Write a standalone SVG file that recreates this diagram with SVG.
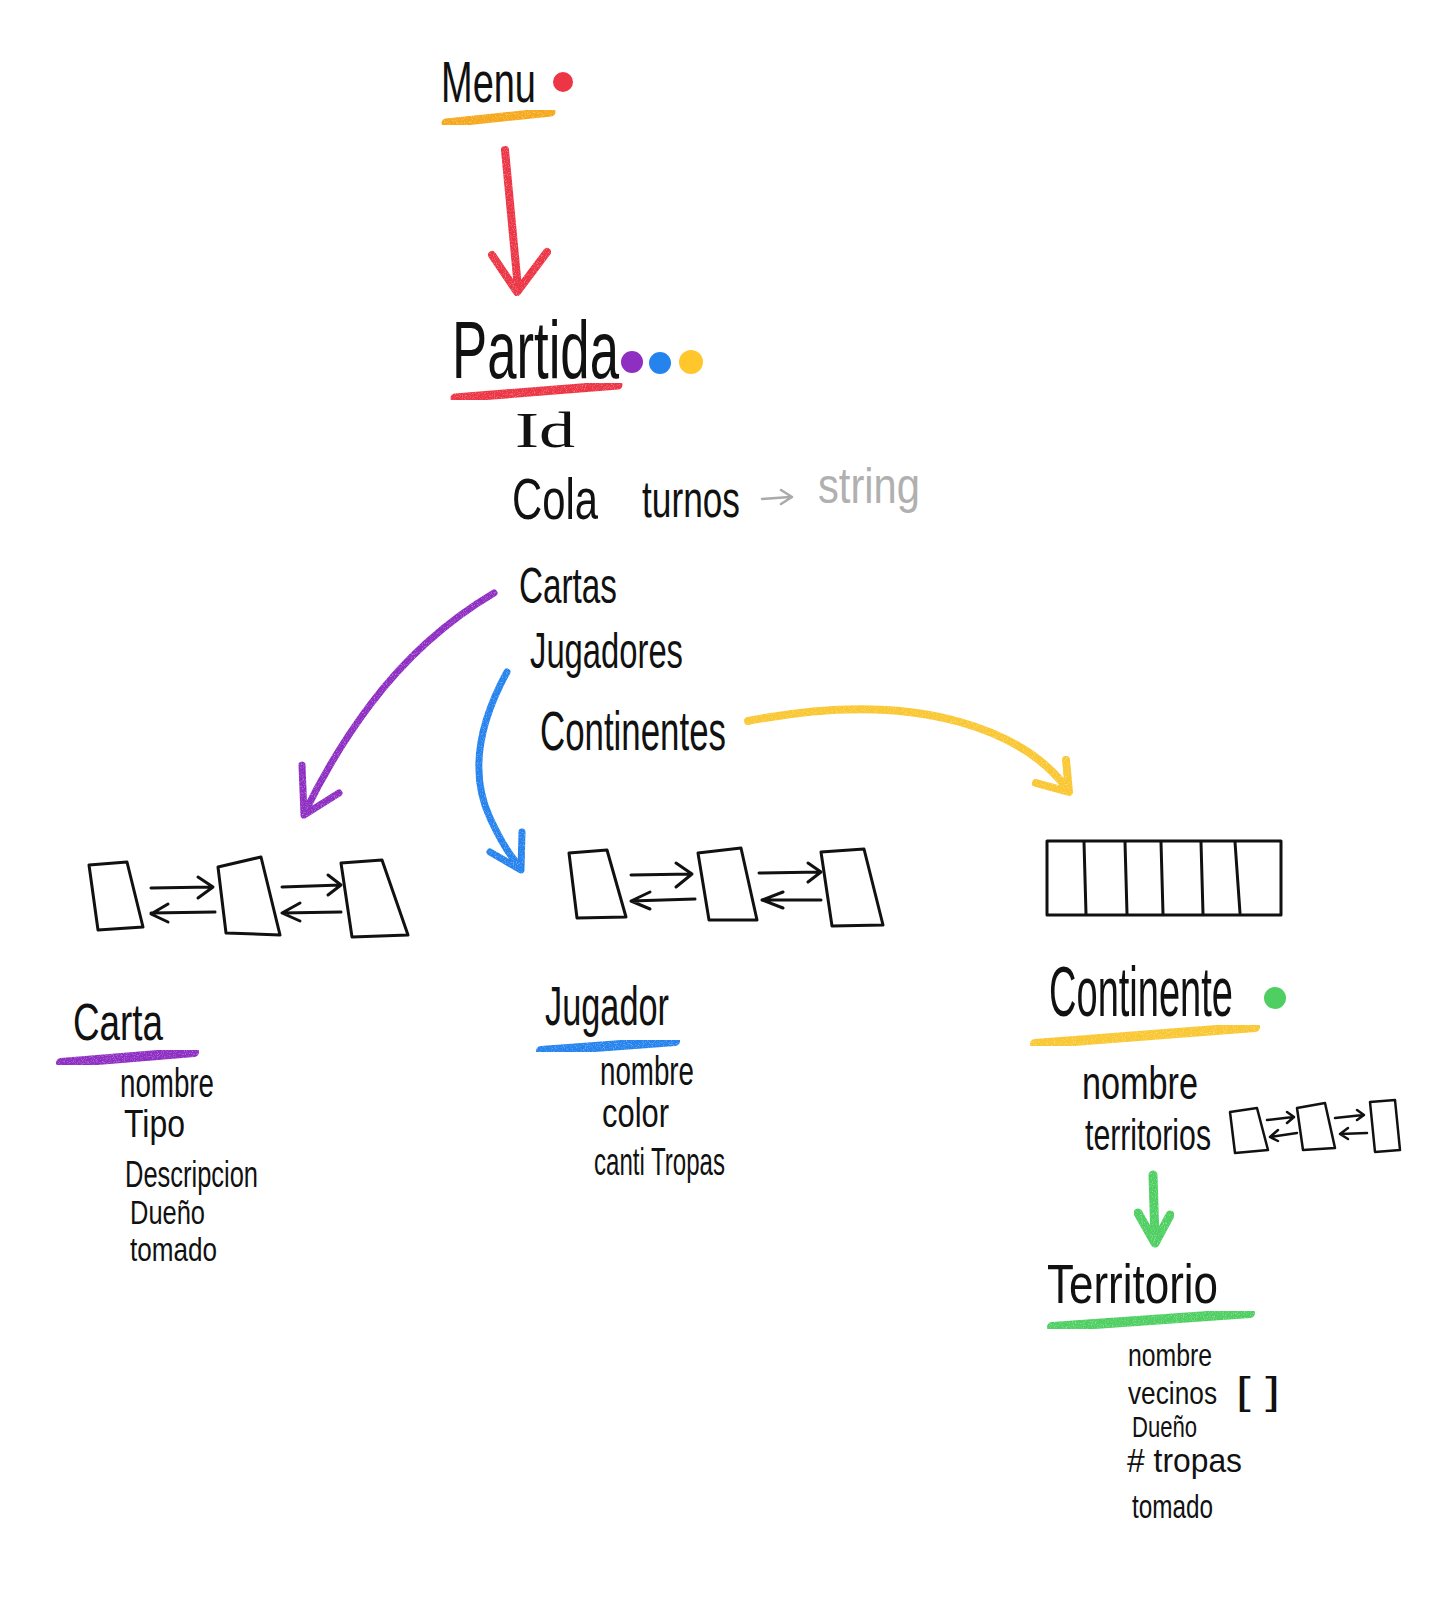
<svg xmlns="http://www.w3.org/2000/svg" width="1456" height="1600" viewBox="0 0 1456 1600">
<defs>
<style>
text{font-family:"Liberation Sans","DejaVu Sans",sans-serif;fill:#111}
.ink{fill:none;stroke:#111;stroke-width:3;stroke-linecap:round;stroke-linejoin:round}
.inkf{fill:none;stroke:#111;stroke-width:2.5;stroke-linecap:round;stroke-linejoin:round}
.cray{fill:none;stroke-linecap:round;stroke-linejoin:round;filter:url(#crayon)}
.red{stroke:#EC3545}.org{stroke:#F6A81E}.pur{stroke:#8E2FC2}.blu{stroke:#2583EE}.yel{stroke:#F9C733}.grn{stroke:#4FCF62}
</style>
<filter id="crayon" x="-10%" y="-10%" width="120%" height="120%">
<feTurbulence type="fractalNoise" baseFrequency="0.9" numOctaves="2" result="n"/>
<feColorMatrix in="n" type="matrix" values="0 0 0 0 0  0 0 0 0 0  0 0 0 0 0  0 0 0 -1.2 1.6" result="m"/>
<feComposite in="SourceGraphic" in2="m" operator="in"/>
</filter>
</defs>
<rect width="1456" height="1600" fill="#fff"/>

<g id="connectors">
<path class="cray red" stroke-width="8" d="M505,150 L518,288 M492,255 L517,292 L547,252"/>
<path class="cray pur" stroke-width="7" d="M494,593 C440,625 400,665 370,705 S318,785 304,814 M302,765 L304,815 L339,793"/>
<path class="cray blu" stroke-width="7" d="M507,672 C478,725 470,775 490,818 S515,858 520,868 M522,832 L521,870 L490,852"/>
<path class="cray yel" stroke-width="8" d="M748,721 C830,705 900,705 960,722 S1050,765 1068,790 M1036,783 L1069,792 L1066,760"/>
<path class="cray grn" stroke-width="9" d="M1153,1175 L1155,1240 M1138,1213 L1155,1243 L1170,1215"/>
<path fill="none" stroke="#aaa" stroke-width="2.5" stroke-linecap="round" stroke-linejoin="round" d="M762,499 L790,497 M781,490 L792,497 L781,504"/>
</g>

<g id="menu">
<text x="441" y="102" font-size="58" textLength="95" lengthAdjust="spacingAndGlyphs">Menu</text>
<circle cx="563" cy="82" r="10" fill="#EC3545"/>
<path class="cray org" stroke-width="9" d="M446,123 L551,112"/>
</g>

<g id="partida">
<text x="452" y="378" font-size="82" textLength="167" lengthAdjust="spacingAndGlyphs">Partida</text>
<circle cx="632" cy="362" r="11" fill="#8E2FC2"/>
<circle cx="660" cy="363" r="11" fill="#2583EE"/>
<circle cx="691" cy="362" r="12" fill="#FFC72C"/>
<path class="cray red" stroke-width="9" d="M455,398 L618,385"/>
<text x="515" y="447" font-size="50" textLength="60" lengthAdjust="spacingAndGlyphs" style="font-family:'Liberation Serif',serif">Id</text>
<text x="512" y="519" font-size="58" textLength="86" lengthAdjust="spacingAndGlyphs">Cola</text>
<text x="642" y="517" font-size="52" textLength="98" lengthAdjust="spacingAndGlyphs">turnos</text>
<text x="818" y="503" font-size="50" textLength="102" lengthAdjust="spacingAndGlyphs" style="fill:#b0b0b0">string</text>
<text x="519" y="603" font-size="50" textLength="98" lengthAdjust="spacingAndGlyphs">Cartas</text>
<text x="530" y="668" font-size="50" textLength="153" lengthAdjust="spacingAndGlyphs">Jugadores</text>
<text x="540" y="750" font-size="56" textLength="186" lengthAdjust="spacingAndGlyphs">Continentes</text>
</g>

<g id="lista-cartas">
<path class="ink" d="M89,865 L127,862 L143,927 L98,930 Z"/>
<path class="ink" d="M218,867 L261,857 L280,935 L226,933 Z"/>
<path class="ink" d="M341,863 L382,860 L408,935 L352,937 Z"/>
<path class="ink" d="M151,888 L212,887 M198,877 L213,887 L198,898"/>
<path class="ink" d="M215,912 L151,913 M168,904 L151,914 L168,922"/>
<path class="ink" d="M282,887 L341,885 M328,875 L341,885 L328,895"/>
<path class="ink" d="M341,912 L282,913 M300,903 L282,913 L300,921"/>
</g>

<g id="lista-jugadores">
<path class="ink" d="M569,853 L607,850 L626,917 L577,918 Z"/>
<path class="ink" d="M698,853 L741,848 L757,920 L709,920 Z"/>
<path class="ink" d="M821,852 L864,849 L883,925 L832,926 Z"/>
<path class="ink" d="M631,875 L692,874 M676,863 L692,874 L676,887"/>
<path class="ink" d="M695,899 L631,901 M650,892 L631,901 L650,909"/>
<path class="ink" d="M759,873 L821,872 M808,863 L821,872 L808,882"/>
<path class="ink" d="M821,900 L762,900 M783,892 L762,900 L783,908"/>
</g>

<g id="arreglo-continentes">
<rect class="ink" x="1047" y="841" width="234" height="74" stroke-linecap="square"/>
<path class="ink" d="M1084,842 L1086,914 M1125,842 L1127,914 M1161,842 L1163,914 M1201,842 L1203,914 M1235,842 L1240,913"/>
</g>

<g id="carta">
<text x="73" y="1040" font-size="52" textLength="90" lengthAdjust="spacingAndGlyphs">Carta</text>
<path class="cray pur" stroke-width="10" d="M61,1063 L194,1052"/>
<text x="120" y="1097" font-size="40" textLength="94" lengthAdjust="spacingAndGlyphs">nombre</text>
<text x="124" y="1137" font-size="38" textLength="61" lengthAdjust="spacingAndGlyphs">Tipo</text>
<text x="125" y="1187" font-size="36" textLength="133" lengthAdjust="spacingAndGlyphs">Descripcion</text>
<text x="130" y="1224" font-size="33" textLength="75" lengthAdjust="spacingAndGlyphs">Dueño</text>
<text x="130" y="1261" font-size="34" textLength="87" lengthAdjust="spacingAndGlyphs">tomado</text>
</g>

<g id="jugador">
<text x="545" y="1025" font-size="56" textLength="124" lengthAdjust="spacingAndGlyphs">Jugador</text>
<path class="cray blu" stroke-width="10" d="M541,1051 L675,1041"/>
<text x="600" y="1085" font-size="40" textLength="94" lengthAdjust="spacingAndGlyphs">nombre</text>
<text x="602" y="1127" font-size="40" textLength="67" lengthAdjust="spacingAndGlyphs">color</text>
<text x="594" y="1175" font-size="38" textLength="131" lengthAdjust="spacingAndGlyphs">canti Tropas</text>
</g>

<g id="continente">
<text x="1049" y="1016" font-size="70" textLength="184" lengthAdjust="spacingAndGlyphs">Continente</text>
<circle cx="1275" cy="998" r="11" fill="#4FCF62"/>
<path class="cray yel" stroke-width="10" d="M1035,1044 L1255,1027"/>
<text x="1082" y="1099" font-size="46" textLength="116" lengthAdjust="spacingAndGlyphs">nombre</text>
<text x="1085" y="1150" font-size="44" textLength="126" lengthAdjust="spacingAndGlyphs">territorios</text>
<path class="inkf" d="M1230,1112 L1257,1108 L1268,1150 L1235,1153 Z"/>
<path class="inkf" d="M1297,1108 L1325,1103 L1335,1148 L1303,1150 Z"/>
<path class="inkf" d="M1370,1102 L1395,1100 L1400,1150 L1375,1152 Z"/>
<path class="inkf" d="M1267,1120 L1293,1117 M1287,1112 L1294,1117 L1287,1123"/>
<path class="inkf" d="M1297,1133 L1270,1137 M1278,1130 L1270,1137 L1278,1141"/>
<path class="inkf" d="M1335,1118 L1363,1115 M1357,1110 L1364,1115 L1357,1120"/>
<path class="inkf" d="M1367,1133 L1340,1134 M1348,1128 L1340,1134 L1348,1139"/>
</g>

<g id="territorio">
<text x="1047" y="1303" font-size="56" textLength="171" lengthAdjust="spacingAndGlyphs">Territorio</text>
<path class="cray grn" stroke-width="10" d="M1052,1327 L1250,1313"/>
<text x="1128" y="1366" font-size="32" textLength="84" lengthAdjust="spacingAndGlyphs">nombre</text>
<text y="1404" font-size="32"><tspan x="1128" textLength="89" lengthAdjust="spacingAndGlyphs">vecinos</tspan><tspan x="1236" font-size="38" textLength="44" lengthAdjust="spacingAndGlyphs">[ ]</tspan></text>
<text x="1132" y="1437" font-size="30" textLength="65" lengthAdjust="spacingAndGlyphs">Dueño</text>
<text x="1127" y="1472" font-size="34" textLength="115" lengthAdjust="spacingAndGlyphs"># tropas</text>
<text x="1132" y="1518" font-size="34" textLength="81" lengthAdjust="spacingAndGlyphs">tomado</text>
</g>
</svg>
